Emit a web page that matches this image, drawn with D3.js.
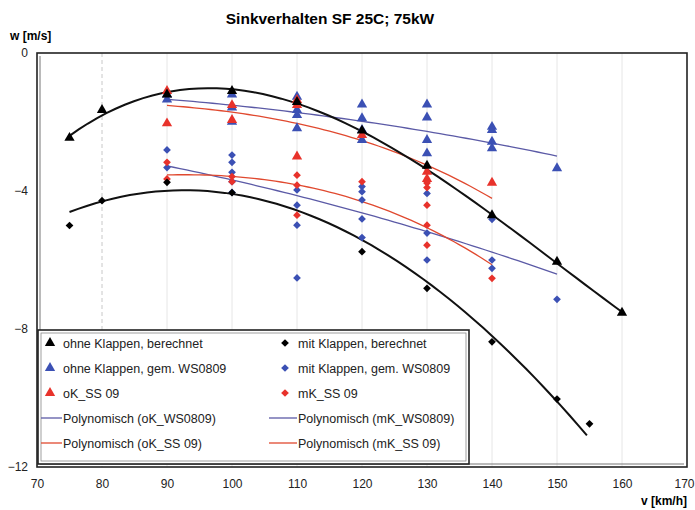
<!DOCTYPE html>
<html lang="de">
<head>
    <meta charset="UTF-8">
    <title>Sinkverhalten SF 25C</title>
    <script src="https://d3js.org/d3.v7.min.js"></script>
    <style>
        body { margin: 0; background: #fff; }
        text { font-family: "Liberation Sans", Arial, sans-serif; }
    </style>
</head>
<body>
<div id="main"></div>
<script>
    // Messpunkte [v, w]
    const ohneBerechnet = [[75, -2.46], [80, -1.65], [90, -1.2], [100, -1.1], [110, -1.42], [120, -2.25],
        [130, -3.27], [140, -4.7], [150, -6.05], [160, -7.53]]
    const mitBerechnet = [[75, -5.0], [80, -4.28], [90, -3.75], [100, -4.05], [120, -5.76], [130, -6.82],
        [140, -8.37], [150, -10.03], [155, -10.75]]
    const ohneWS0809 = [[90, -1.2], [90, -1.35], [100, -1.2], [100, -1.58], [100, -1.99],
        [110, -1.27], [110, -1.65], [110, -1.8], [110, -2.18],
        [120, -1.49], [120, -1.89], [120, -2.23], [120, -2.52],
        [130, -1.49], [130, -1.87], [130, -2.52], [130, -2.91],
        [140, -2.14], [140, -2.23], [140, -2.57], [140, -2.76], [150, -3.34]]
    const mitWS0809 = [[90, -2.81], [90, -3.32],
        [100, -2.96], [100, -3.17], [100, -3.46], [100, -3.73], [100, -4.04],
        [110, -3.97], [110, -4.41], [110, -4.99], [110, -6.52],
        [120, -3.87], [120, -4.02], [120, -4.26], [120, -4.81], [120, -5.35],
        [130, -4.07], [130, -5.22], [130, -6.0],
        [140, -4.82], [140, -6.0], [140, -6.24], [150, -7.14]]
    const oKSS09 = [[90, -1.1], [90, -2.04], [100, -1.51], [100, -1.94], [110, -1.36], [110, -1.51], [110, -3.0],
        [120, -2.38], [130, -3.44], [130, -3.65], [140, -3.76]]
    const mKSS09 = [[90, -3.17], [90, -3.65], [100, -3.58], [100, -3.73], [110, -3.54], [110, -3.83], [110, -4.7],
        [120, -3.73], [130, -3.77], [130, -3.9], [130, -4.41], [130, -4.99], [130, -5.57], [140, -6.53]]

    // Trendlinien, werden als Polynom geglaettet
    const trendOhneBer = [[75, -2.46], [80, -1.72], [90, -1.15], [100, -1.08], [110, -1.44], [120, -2.28],
        [130, -3.39], [140, -4.7], [150, -6.05], [160, -7.53]]
    const trendMitBer = [[75, -4.6], [80, -4.28], [90, -4.07], [100, -4.05], [110, -4.55], [120, -5.47],
        [130, -6.45], [140, -8.4], [150, -10.05], [154.6, -11.07]]
    const trendOhneWS = [[90, -1.33], [100, -1.52], [110, -1.74], [120, -1.99], [130, -2.25], [140, -2.6], [150, -3.0]]
    const trendMitWS = [[90, -3.25], [100, -3.7], [110, -4.16], [120, -4.64], [130, -5.14], [140, -5.76], [150, -6.43]]
    const trendOhneSS = [[90, -1.51], [100, -1.75], [110, -2.0], [120, -2.55], [130, -3.26], [140, -4.21]]
    const trendMitSS = [[90, -3.54], [100, -3.56], [110, -3.84], [120, -4.3], [130, -5.06], [140, -6.14]]

    const xTicks = [70, 80, 90, 100, 110, 120, 130, 140, 150, 160, 170]
    const yTicks = [0, -4, -8, -12]

    const blue = "#3b50b4", red = "#e8322b", lineBlue = "#5b5aa6", lineRed = "#e0492f"

    let width = 695, height = 510

    let svg = d3.select("#main")
        .append("svg")
        .attr("width", width)
        .attr("height", height)

    let XScale = d3.scaleLinear().domain([70, 170]).range([37, 687])
    let YScale = d3.scaleLinear().domain([-12, 0]).range([467, 53])

    // least squares Polynom
    function polyfit(pts, order) {
        let n = order + 1
        let A = [], b = []
        for (let i = 0; i < n; i++) { A.push(new Array(n).fill(0)); b.push(0) }
        pts.forEach(function (p) {
            let t = (p[0] - 110) / 40
            for (let i = 0; i < n; i++) {
                for (let j = 0; j < n; j++) A[i][j] += Math.pow(t, i + j)
                b[i] += p[1] * Math.pow(t, i)
            }
        })
        for (let i = 0; i < n; i++) {
            let piv = i
            for (let k = i + 1; k < n; k++) if (Math.abs(A[k][i]) > Math.abs(A[piv][i])) piv = k
            ;[A[i], A[piv]] = [A[piv], A[i]];
            [b[i], b[piv]] = [b[piv], b[i]]
            for (let k = i + 1; k < n; k++) {
                let f = A[k][i] / A[i][i]
                for (let j = i; j < n; j++) A[k][j] -= f * A[i][j]
                b[k] -= f * b[i]
            }
        }
        let c = new Array(n).fill(0)
        for (let i = n - 1; i >= 0; i--) {
            let s = b[i]
            for (let j = i + 1; j < n; j++) s -= A[i][j] * c[j]
            c[i] = s / A[i][i]
        }
        let x0 = pts[0][0], x1 = pts[pts.length - 1][0]
        return d3.range(0, 61).map(function (k) {
            let x = x0 + (x1 - x0) * k / 60, t = (x - 110) / 40
            return [x, c.reduce((acc, ci, i) => acc + ci * Math.pow(t, i), 0)]
        })
    }

    // Titel
    svg.append("text").attr("x", 330).attr("y", 24).attr("text-anchor", "middle")
        .style("font-size", "15.5px").style("font-weight", "bold").text("Sinkverhalten SF 25C; 75kW")
    svg.append("text").attr("x", 10).attr("y", 40)
        .style("font-size", "12px").style("font-weight", "bold").text("w [m/s]")
    svg.append("text").attr("x", 687).attr("y", 505).attr("text-anchor", "end")
        .style("font-size", "12px").style("font-weight", "bold").text("v [km/h]")

    // Gitter
    svg.append("g").selectAll("line")
        .data(xTicks.slice(1, -1))
        .enter()
        .append("line")
        .attr("x1", d => XScale(d)).attr("x2", d => XScale(d))
        .attr("y1", YScale(0)).attr("y2", YScale(-12))
        .attr("stroke", d => d === 80 ? "#c8c8c8" : "#e6e6e6")
        .attr("stroke-width", 1)
        .attr("stroke-dasharray", d => d === 80 ? "4,3" : null)

    // Achsen
    let x_axis = d3.axisBottom(XScale).tickValues(xTicks).tickSize(0).tickPadding(12)
    let xg = svg.append("g").attr("transform", `translate(0, ${YScale(-12)})`).call(x_axis)
    xg.select(".domain").remove()
    xg.selectAll("text").style("font-size", "12px").style("fill", "#222")
        .style("font-family", "'Liberation Sans', Arial, sans-serif")
    xg.selectAll("text").filter(d => d === 170).attr("text-anchor", "end").attr("dx", "7")

    let y_axis = d3.axisLeft(YScale).tickValues(yTicks).tickSize(0).tickPadding(9)
    let yg = svg.append("g").attr("transform", `translate(${XScale(70)}, 0)`).call(y_axis)
    yg.select(".domain").remove()
    yg.selectAll("text").style("font-size", "12px").style("fill", "#222")
        .style("font-family", "'Liberation Sans', Arial, sans-serif")

    // Trendlinien
    let line = d3.line().x(d => XScale(d[0])).y(d => YScale(d[1]))
    let trends = [
        {data: trendOhneWS, color: lineBlue, w: 1.3, o: 2},
        {data: trendMitWS, color: lineBlue, w: 1.3, o: 2},
        {data: trendOhneSS, color: lineRed, w: 1.3, o: 3},
        {data: trendMitSS, color: lineRed, w: 1.3, o: 3},
        {data: trendOhneBer, color: "#111", w: 2, o: 3},
        {data: trendMitBer, color: "#111", w: 2, o: 3}
    ]
    svg.append("g").selectAll("path")
        .data(trends)
        .enter()
        .append("path")
        .attr("d", d => line(polyfit(d.data, d.o)))
        .attr("fill", "none")
        .attr("stroke", d => d.color)
        .attr("stroke-width", d => d.w)

    // Marker (Raute = gedrehtes Quadrat)
    let tri = {path: d3.symbol().type(d3.symbolTriangle).size(46), rot: 0}
    let dia = {path: d3.symbol().type(d3.symbolSquare).size(30), rot: 45}
    let series = [
        {data: ohneWS0809, sym: tri, color: blue},
        {data: mitWS0809, sym: dia, color: blue},
        {data: oKSS09, sym: tri, color: red},
        {data: mKSS09, sym: dia, color: red},
        {data: ohneBerechnet, sym: tri, color: "#000"},
        {data: mitBerechnet, sym: dia, color: "#000"}
    ]
    series.forEach(function (s) {
        svg.append("g").selectAll("path")
            .data(s.data)
            .enter()
            .append("path")
            .attr("transform", d => `translate(${XScale(d[0])}, ${YScale(d[1])}) rotate(${s.sym.rot})`)
            .attr("d", s.sym.path())
            .attr("fill", s.color)
    })

    // Rahmen
    svg.append("rect")
        .attr("x", XScale(70)).attr("y", YScale(0))
        .attr("width", XScale(170) - XScale(70)).attr("height", YScale(-12) - YScale(0))
        .attr("fill", "none").attr("stroke", "#222").attr("stroke-width", 1.6)
    svg.append("path")
        .attr("d", `M ${XScale(70) + 3},${YScale(0) + 3} L ${XScale(70) + 3},${YScale(-12) - 3} L ${XScale(170) - 3},${YScale(-12) - 3}`)
        .attr("fill", "none").attr("stroke", "#777").attr("stroke-width", 1)

    // Legende
    let legend = svg.append("g")
    legend.append("rect")
        .attr("x", 38).attr("y", 330).attr("width", 431).attr("height", 134)
        .attr("fill", "#fff").attr("stroke", "#222").attr("stroke-width", 1.6)
    legend.append("rect")
        .attr("x", 41).attr("y", 333).attr("width", 425).attr("height", 128)
        .attr("fill", "none").attr("stroke", "#888").attr("stroke-width", 0.8)

    let legendItems = [
        {label: "ohne Klappen, berechnet", type: "sym", sym: tri, color: "#000", col: 0, row: 0},
        {label: "ohne Klappen, gem. WS0809", type: "sym", sym: tri, color: blue, col: 0, row: 1},
        {label: "oK_SS 09", type: "sym", sym: tri, color: red, col: 0, row: 2},
        {label: "Polynomisch (oK_WS0809)", type: "line", color: lineBlue, col: 0, row: 3},
        {label: "Polynomisch (oK_SS 09)", type: "line", color: lineRed, col: 0, row: 4},
        {label: "mit Klappen, berechnet", type: "sym", sym: dia, color: "#000", col: 1, row: 0},
        {label: "mit Klappen, gem. WS0809", type: "sym", sym: dia, color: blue, col: 1, row: 1},
        {label: "mK_SS 09", type: "sym", sym: dia, color: red, col: 1, row: 2},
        {label: "Polynomisch (mK_WS0809)", type: "line", color: lineBlue, col: 1, row: 3},
        {label: "Polynomisch (mK_SS 09)", type: "line", color: lineRed, col: 1, row: 4}
    ]
    let colX = [50, 285]
    let item = legend.selectAll("g.item")
        .data(legendItems)
        .enter()
        .append("g")
        .attr("class", "item")
        .attr("transform", d => `translate(${colX[d.col]}, ${343 + d.row * 25})`)
    item.filter(d => d.type === "sym")
        .append("path")
        .attr("d", d => d.sym.path())
        .attr("transform", d => `rotate(${d.sym.rot})`)
        .attr("fill", d => d.color)
    item.filter(d => d.type === "line")
        .append("line")
        .attr("x1", d => d.col === 0 ? -9 : -16).attr("x2", 12).attr("y1", 0).attr("y2", 0)
        .attr("stroke", d => d.color).attr("stroke-width", 1.3)
    item.append("text")
        .attr("x", 13)
        .attr("y", 4.5)
        .style("font-size", "12.5px")
        .style("fill", "#222")
        .text(d => d.label)
</script>
</body>
</html>
